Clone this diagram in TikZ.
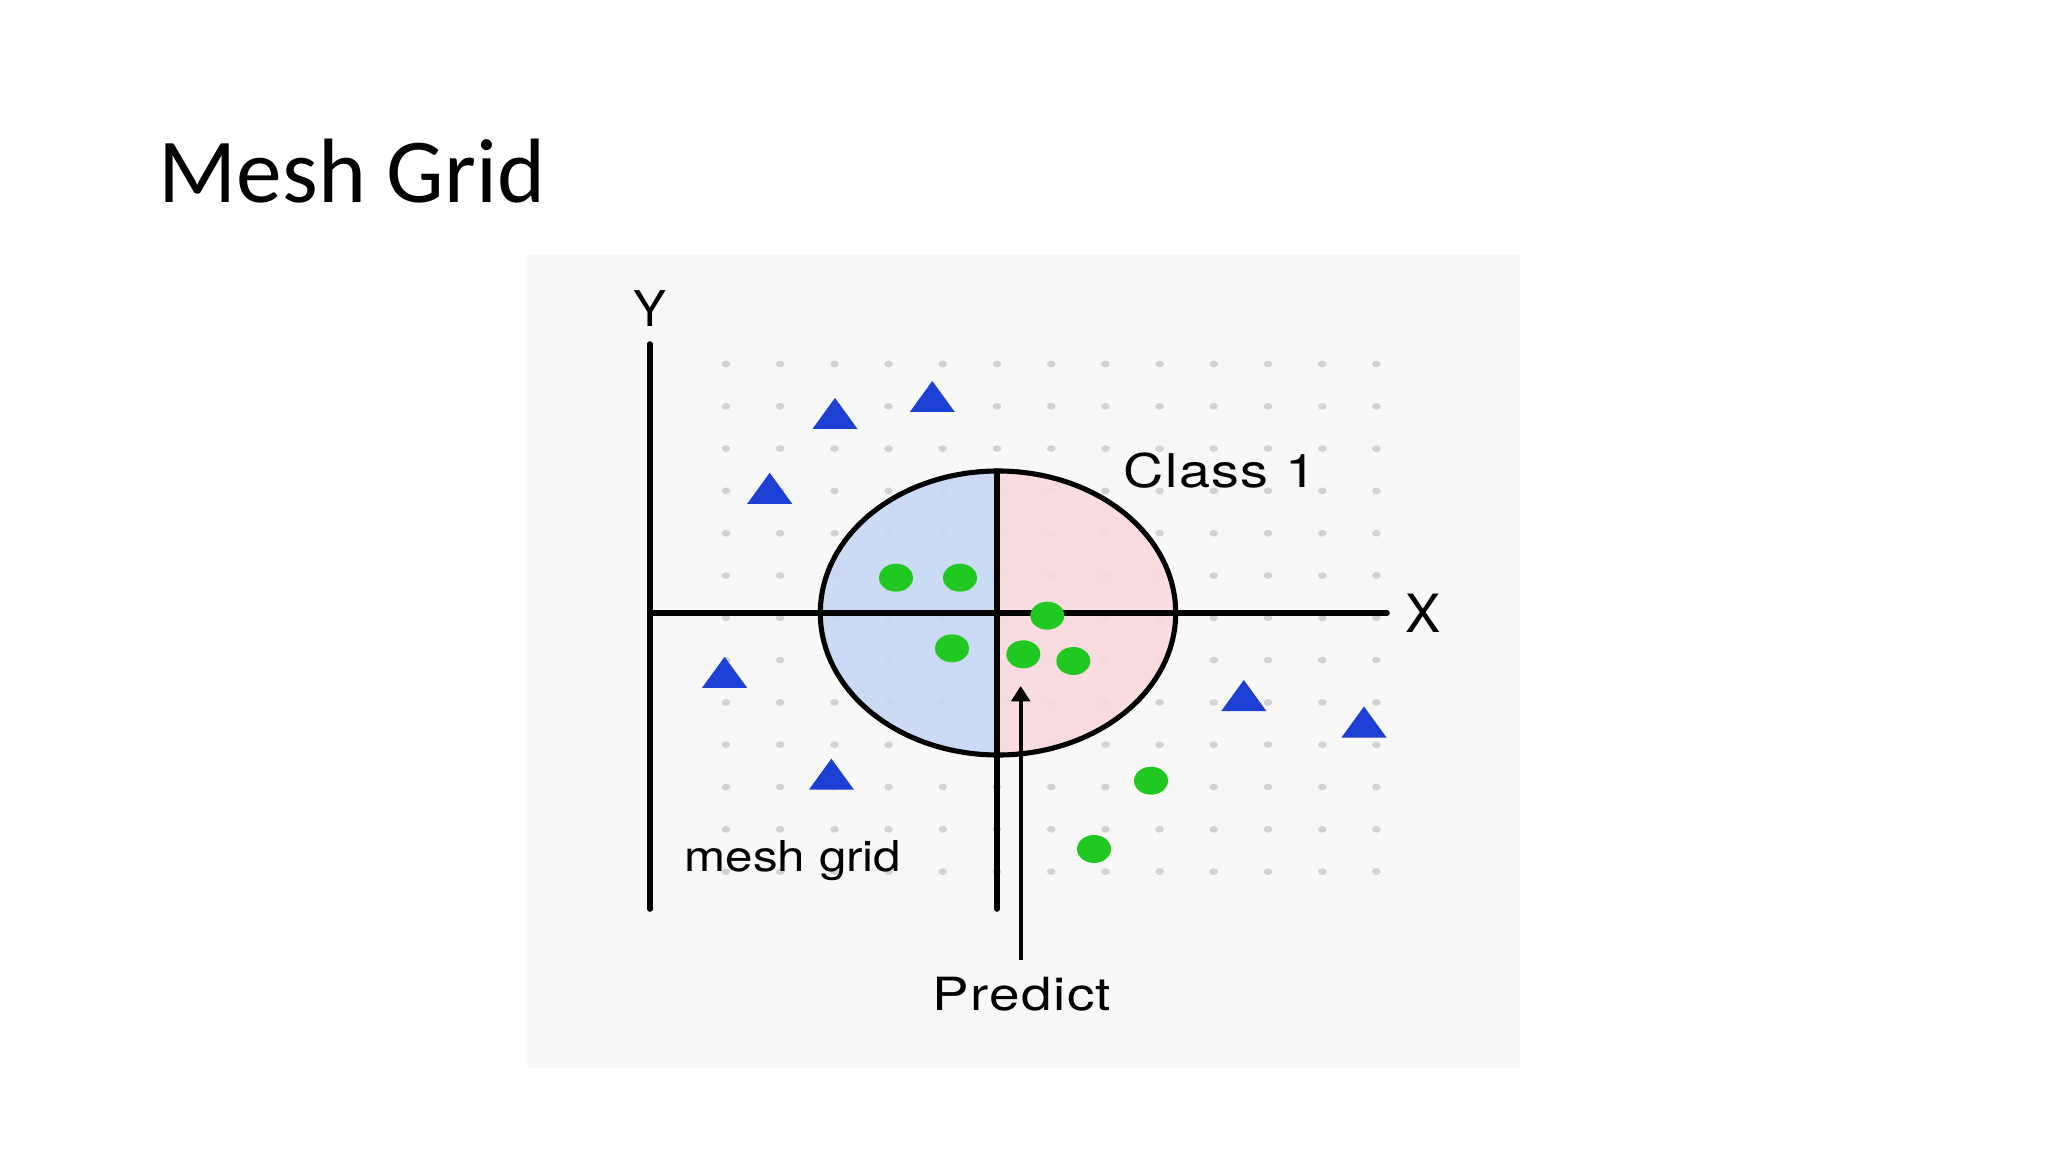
\documentclass[tikz,border=0pt]{standalone}
\usepackage{fontspec}
\setmainfont{TeX Gyre Heros}
\newfontfamily\titlefont{Carlito}
\newfontfamily\figfont[FakeStretch=1.2,LetterSpace=3]{TeX Gyre Heros}
\newfontfamily\meshfont[FakeStretch=1.16]{TeX Gyre Heros}
\usepackage{tikz}
\usetikzlibrary{arrows.meta}
\definecolor{panelbg}{HTML}{F8F8F8}
\definecolor{meshdot}{HTML}{D2D2D2}
\definecolor{triblue}{HTML}{1C40D4}
\definecolor{ptgreen}{HTML}{22C822}
\definecolor{leftfill}{HTML}{C8D9F5}
\definecolor{rightfill}{HTML}{FADADD}
\tikzset{
  axisline/.style = {line width=1.6pt,line cap=round},
  rimline/.style  = {line width=1.45pt},
  predarr/.style  = {-{Triangle[length=4.4pt,width=5.3pt]},line width=1.25pt},
  lbl/.style      = {inner sep=0pt}
}
\newcommand{\tri}[2]{%
  \fill[triblue] (#1-22.5,#2+15.5) -- (#1,#2-15.5) -- (#1+22.5,#2+15.5) -- cycle;
}
\newcommand{\greenpt}[2]{%
  \fill[ptgreen] (#1,#2) ellipse [x radius=17, y radius=14];
}

\begin{document}
\begin{tikzpicture}[x=0.01cm,y=-0.01cm]
  \useasboundingbox (0,0) rectangle (2048,1152);
  \node[anchor=base west,inner sep=0pt,font=\titlefont\fontsize{26}{30}\selectfont] (title) at (158,202.7) {Mesh Grid};
  \fill[panelbg] (527,255) rectangle (1520,1068);
  % mesh points
  \foreach \i in {0,...,12}
    \foreach \j in {0,...,12}
      \fill[meshdot] (726+54.2*\i,364+42.3*\j) ellipse [x radius=4.3, y radius=3.4];
  % two halves of the region
  \begin{scope}
    \clip (998,613) ellipse [x radius=177.7, y radius=142];
    \fill[leftfill,opacity=0.92]  (800,450) rectangle (998,780);
    \fill[rightfill,opacity=0.92] (998,450) rectangle (1200,780);
  \end{scope}
  \coordinate (ytop) at (650,344);
  \coordinate (ybot) at (650,909);
  \coordinate (xend) at (1387,613);
  \coordinate (ctop) at (997,471);
  \coordinate (cbot) at (997,909);
  \draw[axisline] (ytop) -- (ybot);
  \draw[axisline] (650,613) -- (xend);
  \draw[rimline] (998,613) ellipse [x radius=177.7, y radius=142];
  \draw[axisline] (ctop) -- (cbot);
  % class 0
  \tri{835}{413.4}
  \tri{932.3}{396.5}
  \tri{769.7}{488.3}
  \tri{724.6}{672.3}
  \tri{1243.8}{695.5}
  \tri{1364}{722}
  \tri{831.4}{774.2}
  % class 1
  \greenpt{896}{577.7}
  \greenpt{960}{577.7}
  \greenpt{1047.3}{615.7}
  \greenpt{952}{648.3}
  \greenpt{1023.3}{654.3}
  \greenpt{1073.3}{661}
  \greenpt{1151}{780.7}
  \greenpt{1094}{849}
  % labels
  \node[lbl,anchor=base,font=\fontsize{14}{16}\selectfont] (ylab) at (650,326.7) {Y};
  \node[lbl,anchor=base,font=\fontsize{15}{17}\selectfont] (xlab) at (1423,632.7) {X};
  \node[lbl,anchor=base west,font=\figfont\fontsize{13.2}{15}\selectfont] (class) at (1123,487.3) {Class 1};
  \node[lbl,anchor=base west,font=\meshfont\fontsize{12.1}{14}\selectfont] (mesh) at (684,871.7) {mesh grid};
  \node[lbl,anchor=base west,inner ysep=4.5pt,font=\figfont\fontsize{13}{15}\selectfont] (predict) at (932,1010) {Predict};
  \coordinate (predtip) at (1020.7,686);
  \draw[predarr] (predict.north -| predtip) -- (predtip);
\end{tikzpicture}
\end{document}
